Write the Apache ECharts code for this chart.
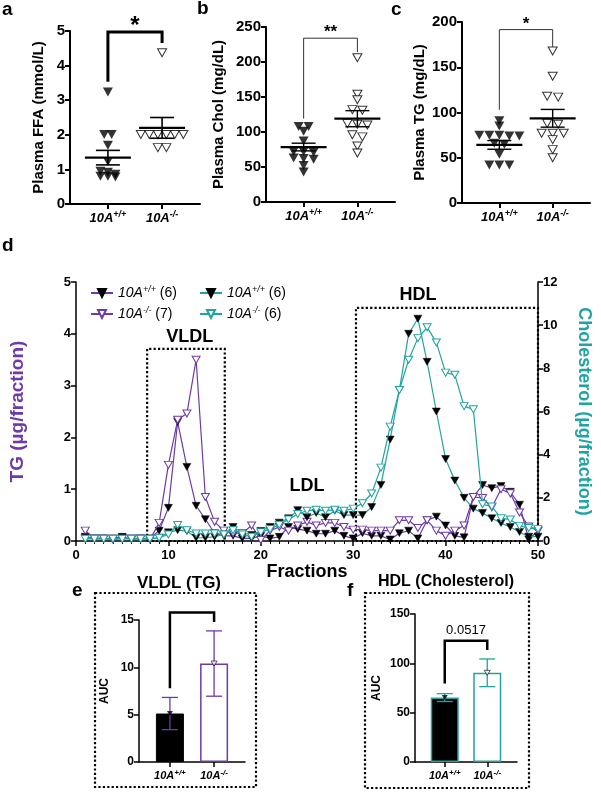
<!DOCTYPE html>
<html><head><meta charset="utf-8">
<script src="https://cdn.jsdelivr.net/npm/echarts@6/dist/echarts.min.js"></script>
<style>html,body{margin:0;padding:0;background:#fff}#c{width:601px;height:792px}</style>
</head><body><div id="c"></div>
<script>
// ---------- data ----------
const groups = ['10A+/+', '10A-/-'];
// panel a: plasma FFA (mmol/L)
const ffaWT = [3.24, 2.01, 2.01, 1.70, 1.23, 0.95, 0.92, 0.86, 0.80, 0.78, 0.80];
const ffaKO = [4.37, 2.01, 2.01, 2.01, 2.01, 2.01, 2.01, 1.63, 1.63];
const ffaMean = [1.34, 2.20];
const ffaSEM = [0.21, 0.30];
const ffaBracket = [3.53, 4.97, 4.65];
// panel b: plasma cholesterol (mg/dL)
const cholWT = [108, 108, 101, 87, 72, 72, 71, 63, 62, 61, 52, 43];
const cholKO = [206, 154, 146, 132, 131, 111, 110, 112, 96, 93, 80, 70];
const cholMean = [78.5, 119];
const cholSEM = [5.5, 11.5];
const cholBracket = [119, 234, 214];
// panel c: plasma TG (mg/dL)
const tgWT = [91, 85, 75, 75, 74, 74, 75, 66, 65, 54, 42, 42, 42];
const tgKO = [168, 140, 118, 117, 88, 87, 77, 77, 77, 70, 59, 50];
const tgMean = [64.2, 93.6];
const tgSEM = [4.8, 9.8];
const tgBracket = [103, 191.6, 172.5];
// panel d: FPLC profiles
const fractions = [1,2,3,4,5,6,7,8,9,10,11,12,13,14,15,16,17,18,19,20,21,22,23,24,25,26,27,28,29,30,31,32,33,34,35,36,37,38,39,40,41,42,43,44,45,46,47,48,49,50];
const profTgWT = [0.08,0.05,0.05,0.05,0.08,0.03,0.05,0.05,0.20,0.64,2.30,1.43,0.68,0.42,0.15,0.10,0.10,0.05,0.05,0.10,0.05,0.08,0.27,0.23,0.20,0.14,0.14,0.20,0.10,0.05,0.15,0.10,0.10,0.03,0.15,0.20,0.05,0.40,0.47,0.30,0.10,0.07,0.85,1.08,1.02,1.06,0.95,0.70,0.03,0.20];
const profTgKO = [0.20,0.05,0.05,0.03,0.05,0.05,0.05,0.03,0.35,1.47,2.34,2.46,3.50,0.85,0.37,0.20,0.15,0.15,0.30,0.02,0.20,0.27,0.20,0.30,0.37,0.30,0.35,0.35,0.27,0.22,0.22,0.20,0.20,0.20,0.40,0.40,0.25,0.40,0.20,0.10,0.20,0.30,0.85,0.83,0.65,1.00,0.92,0.55,0.28,0.20];
const profChWT = [0.15,0.10,0.10,0.10,0.15,0.10,0.10,0.10,0.15,0.40,0.50,0.46,0.15,0.15,0.20,0.30,0.65,0.20,0.28,0.46,0.65,0.85,1.05,1.43,1.10,1.30,1.10,1.40,1.20,1.20,1.20,1.57,2.60,4.70,7.00,9.60,10.30,8.30,6.00,3.80,2.80,2.00,1.50,1.30,1.05,0.83,0.65,0.42,0.20,0.20];
const profChKO = [0.10,0.10,0.10,0.10,0.10,0.10,0.10,0.10,0.15,0.30,0.74,0.50,0.35,0.35,0.35,0.30,0.50,0.30,0.20,0.40,0.55,0.75,1.00,1.25,1.40,1.45,1.40,1.45,1.40,1.50,1.75,2.20,3.40,5.30,7.00,8.40,9.40,9.90,9.20,7.80,7.70,6.25,6.10,1.70,1.60,1.05,1.00,0.70,0.60,0.55];
const legendN = {TG_wt: '(6)', TG_ko: '(7)', Ch_wt: '(6)', Ch_ko: '(6)'};
const regionLabels = ['VLDL', 'LDL', 'HDL'];
// panel e: VLDL (TG) AUC
const vldlAUC = [5.12, 10.4];
const vldlErr = [1.7, 3.45];
const vldlBracket = [7.8, 15.8, 14.8];
// panel f: HDL (cholesterol) AUC
const hdlAUC = [65.3, 90.4];
const hdlErr = [4.0, 14.0];
const hdlBracket = [79.6, 122.9, 113.4];

// ---------- helpers ----------
const purple = '#6d3aa8', teal = '#1fa3a3';
const F = 'Liberation Sans, Arial, Helvetica, sans-serif';

function richLab(fs) {
  return {
    i: {fontSize: fs, fontWeight: 'bold', fontStyle: 'italic', color: '#000', fontFamily: F},
    s: {fontSize: Math.round(fs * 0.7), fontWeight: 'bold', fontStyle: 'italic', color: '#000', fontFamily: F, padding: [0, 0, Math.round(fs * 0.55), 0]}
  };
}
function groupLabel(v) {
  return v === 1 ? '{i|10A}{s|+/+}' : '{i|10A}{s|-/-}';
}
function swarm(vals, tol, sp) {
  const idx = vals.map((v, i) => i).sort((a, b) => vals[b] - vals[a]);
  const off = new Array(vals.length).fill(0);
  let g = [];
  const flush = () => { g.forEach((k, j) => { off[k] = (j - (g.length - 1) / 2) * sp; }); g = []; };
  idx.forEach(k => { if (g.length && vals[g[0]] - vals[k] > tol) flush(); g.push(k); });
  flush();
  return off;
}
function dots(ai, x, vals, tol, sp, filled, size) {
  const off = swarm(vals, tol, sp);
  return {
    type: 'scatter', xAxisIndex: ai, yAxisIndex: ai, symbol: 'triangle', symbolRotate: 180, symbolSize: size, z: 3, silent: true,
    itemStyle: filled ? {color: '#000'} : {color: '#fff', borderColor: '#000', borderWidth: 1},
    data: vals.map((v, i) => ({value: [x, v], symbolOffset: [off[i], 0]}))
  };
}
function meanSem(xi, yi, means, sems, W, C, lw, color) {
  return {
    type: 'custom', xAxisIndex: xi, yAxisIndex: yi, z: 10, silent: true,
    data: means.map((m, i) => [i + 1, m, sems[i]]),
    renderItem(params, api) {
      const x = api.value(0), m = api.value(1), s = api.value(2);
      const pm = api.coord([x, m]), pt = api.coord([x, m + s]), pb = api.coord([x, m - s]);
      const st = {stroke: color, lineWidth: lw};
      const ch = [];
      if (W > 0) ch.push({type: 'line', shape: {x1: pm[0] - W, y1: pm[1], x2: pm[0] + W, y2: pm[1]}, style: {stroke: color, lineWidth: lw + 0.8}});
      ch.push({type: 'line', shape: {x1: pt[0], y1: pt[1], x2: pb[0], y2: pb[1]}, style: st});
      ch.push({type: 'line', shape: {x1: pt[0] - C, y1: pt[1], x2: pt[0] + C, y2: pt[1]}, style: st});
      ch.push({type: 'line', shape: {x1: pb[0] - C, y1: pb[1], x2: pb[0] + C, y2: pb[1]}, style: st});
      return {type: 'group', children: ch};
    }
  };
}
function bracket(xi, yi, b, text, lw, color, fs, bold, dist) {
  return {
    type: 'line', xAxisIndex: xi, yAxisIndex: yi, clip: false, symbol: 'none', silent: true, z: 4,
    lineStyle: {color: color, width: lw, join: 'miter', cap: 'butt'},
    data: [[1, b[0]], [1, b[1]], [2, b[1]], [2, b[2]]],
    markPoint: {
      symbol: 'rect', symbolSize: 0, silent: true,
      data: [{coord: [1.5, b[1]]}],
      label: {show: true, position: 'top', distance: dist, formatter: text, fontSize: fs, fontWeight: bold ? 'bold' : 'normal', color: '#000', fontFamily: F}
    }
  };
}
function catX(gi, fs, margin, lw) {
  return {
    type: 'value', gridIndex: gi, min: 0.3, max: 2.7,
    axisLine: {show: true, lineStyle: {color: '#000', width: lw}},
    axisTick: {show: true, customValues: [1, 2], length: 5, lineStyle: {color: '#000', width: lw}},
    axisLabel: {show: true, customValues: [1, 2], margin: margin, formatter: groupLabel, rich: richLab(fs)},
    splitLine: {show: false}
  };
}
function valY(gi, max, interval, name, fs, nfs, gap, lw) {
  return {
    type: 'value', gridIndex: gi, min: 0, max: max, interval: interval,
    name: name, nameLocation: 'middle', nameGap: gap, nameRotate: 90,
    nameTextStyle: {fontSize: nfs, fontWeight: 'bold', color: '#000', fontFamily: F},
    axisLine: {show: true, lineStyle: {color: '#000', width: lw}},
    axisTick: {show: true, length: 5, lineStyle: {color: '#000', width: lw}},
    axisLabel: {fontSize: fs, fontWeight: 'bold', color: '#000', margin: 5, fontFamily: F},
    splitLine: {show: false}
  };
}
function prof(name, yi, vals, lineColor, filled, z) {
  return {
    name: name, type: 'line', xAxisIndex: 3, yAxisIndex: yi, z: z,
    data: fractions.map((f, i) => [f, vals[i]]),
    symbol: 'triangle', symbolRotate: 180, symbolSize: [8, 7], showAllSymbol: true, showSymbol: true,
    lineStyle: {color: lineColor, width: 1.2},
    itemStyle: filled ? {color: '#000', borderColor: '#000', borderWidth: 0.5} : {color: '#fff', borderColor: lineColor, borderWidth: 1}
  };
}
function legendFmt(name) {
  const sup = name.endsWith('wt') ? '+/+' : '-/-';
  return '{i|10A}{s|' + sup + '}{n| ' + legendN[name] + '}';
}
const legendRich = {
  i: {fontSize: 14, fontStyle: 'italic', color: '#000', fontFamily: F},
  s: {fontSize: 9, fontStyle: 'italic', color: '#000', fontFamily: F, padding: [0, 0, 7, 0]},
  n: {fontSize: 14, color: '#000', fontFamily: F}
};

// ---------- option ----------
const tgLine = prof('TG_ko', 3, profTgKO, purple, false, 3);
tgLine.markArea = {
  silent: true,
  itemStyle: {color: 'rgba(0,0,0,0)', borderColor: '#000', borderWidth: 2.2, borderType: 'dotted'},
  label: {show: false},
  data: [
    [{xAxis: 7.7, yAxis: 0}, {xAxis: 16.1, yAxis: 3.71}],
    [{xAxis: 30.3, yAxis: 0}, {xAxis: 50, yAxis: 4.5}]
  ]
};
tgLine.markPoint = {
  symbol: 'rect', symbolSize: 0, silent: true,
  data: [
    {coord: [12.3, 3.93], name: regionLabels[0]},
    {coord: [25, 1.06], name: regionLabels[1]},
    {coord: [37.0, 4.74], name: regionLabels[2]}
  ],
  label: {show: true, position: 'inside', formatter: '{b}', fontSize: 18, fontWeight: 'bold', color: '#000', fontFamily: F}
};

const dX = {
  type: 'value', gridIndex: 3, min: 0, max: 50, interval: 10,
  name: 'Fractions', nameLocation: 'middle', nameGap: 21,
  nameTextStyle: {fontSize: 18, fontWeight: 'bold', color: '#000', fontFamily: F},
  axisLine: {show: true, lineStyle: {color: '#000', width: 1.5}},
  axisTick: {show: true, length: 5, lineStyle: {color: '#000', width: 1.5}},
  minorTick: {show: true, splitNumber: 10, length: 3, lineStyle: {color: '#000', width: 1}},
  axisLabel: {fontSize: 13, fontWeight: 'bold', color: '#000', margin: 8, fontFamily: F},
  splitLine: {show: false}
};
const dYL = valY(3, 5, 1, 'TG (\u00b5g/fraction)', 13, 19, 49, 1.5);
dYL.nameTextStyle.color = purple;
const dYR = valY(3, 12, 2, 'Cholesterol (\u00b5g/fraction)', 13, 18, 37, 1.5);
dYR.position = 'right';
dYR.nameRotate = -90;
dYR.nameTextStyle.color = teal;

const option = {
  animation: false,
  textStyle: {fontFamily: F},
  grid: [
    {left: 70, right: 401, top: 31, bottom: 588},
    {left: 266, right: 206, top: 27, bottom: 590},
    {left: 462, right: 11, top: 22, bottom: 589},
    {left: 73, right: 59, top: 282, bottom: 251},
    {left: 139, right: 356, top: 620, bottom: 30},
    {left: 415, right: 84, top: 614, bottom: 30}
  ],
  xAxis: [catX(0, 13, 6, 2), catX(1, 13, 6, 2), catX(2, 13, 6, 2), dX, catX(4, 11, 7, 1.5), catX(5, 11, 7, 1.5)],
  yAxis: [
    valY(0, 5, 1, 'Plasma FFA (mmol/L)', 15, 15, 24, 2),
    valY(1, 250, 50, 'Plasma Chol (mg/dL)', 15, 15, 40, 2),
    valY(2, 200, 50, 'Plasma TG (mg/dL)', 15, 15, 35, 2),
    dYL, dYR,
    valY(4, 15, 5, 'AUC', 12, 12, 28, 1.5),
    valY(5, 150, 50, 'AUC', 12, 12, 32, 1.5)
  ],
  legend: [
    {data: ['TG_wt', 'TG_ko'], left: 85, top: 280, orient: 'vertical', itemGap: 6, itemWidth: 22, itemHeight: 10, selectedMode: false, formatter: legendFmt, textStyle: {rich: legendRich}},
    {data: ['Ch_wt', 'Ch_ko'], left: 194, top: 280, orient: 'vertical', itemGap: 6, itemWidth: 22, itemHeight: 10, selectedMode: false, formatter: legendFmt, textStyle: {rich: legendRich}}
  ],
  series: [
    // a
    dots(0, 1, ffaWT, 0.12, 7.5, true, [10, 9]),
    dots(0, 2, ffaKO, 0.12, 8.5, false, [9, 8]),
    meanSem(0, 0, ffaMean, ffaSEM, 23, 12, 1.6, '#000'),
    bracket(0, 0, ffaBracket, '*', 3, '#000', 24, true, -6),
    // b
    dots(1, 1, cholWT, 6, 10, true, [10, 9]),
    dots(1, 2, cholKO, 6, 10, false, [9, 8]),
    meanSem(1, 1, cholMean, cholSEM, 23, 12, 1.4, '#000'),
    bracket(1, 1, cholBracket, '**', 1, '#333', 17, true, -3),
    // c
    dots(2, 1, tgWT, 5, 10, true, [10, 9]),
    dots(2, 2, tgKO, 5, 11, false, [9, 8]),
    meanSem(2, 2, tgMean, tgSEM, 23, 12, 1.4, '#000'),
    bracket(2, 2, tgBracket, '*', 1, '#333', 17, true, -3),
    // d
    prof('TG_wt', 3, profTgWT, purple, true, 2),
    tgLine,
    prof('Ch_wt', 4, profChWT, teal, true, 4),
    prof('Ch_ko', 4, profChKO, teal, false, 5),
    // e
    {type: 'bar', xAxisIndex: 4, yAxisIndex: 5, barWidth: 28, silent: true, z: 2,
     data: [{value: [1, vldlAUC[0]], itemStyle: {color: '#000', borderColor: '#000', borderWidth: 1}},
            {value: [2, vldlAUC[1]], itemStyle: {color: '#fff', borderColor: purple, borderWidth: 1.5}}]},
    meanSem(4, 5, vldlAUC, vldlErr, 0, 8, 1.3, purple),
    {type: 'scatter', xAxisIndex: 4, yAxisIndex: 5, symbol: 'triangle', symbolRotate: 180, symbolSize: [6, 5], silent: true, z: 11,
     data: [{value: [1, vldlAUC[0]], itemStyle: {color: '#000'}}, {value: [2, vldlAUC[1]], itemStyle: {color: '#fff', borderColor: '#000', borderWidth: 0.8}}]},
    bracket(4, 5, vldlBracket, 'ns', 2.5, '#000', 11, false, 4),
    // f
    {type: 'bar', xAxisIndex: 5, yAxisIndex: 6, barWidth: 28, silent: true, z: 2,
     data: [{value: [1, hdlAUC[0]], itemStyle: {color: '#000', borderColor: teal, borderWidth: 1.5}},
            {value: [2, hdlAUC[1]], itemStyle: {color: '#fff', borderColor: teal, borderWidth: 1.5}}]},
    meanSem(5, 6, hdlAUC, hdlErr, 0, 8, 1.3, teal),
    {type: 'scatter', xAxisIndex: 5, yAxisIndex: 6, symbol: 'triangle', symbolRotate: 180, symbolSize: [6, 5], silent: true, z: 11,
     data: [{value: [1, hdlAUC[0]], itemStyle: {color: '#000'}}, {value: [2, hdlAUC[1]], itemStyle: {color: '#fff', borderColor: '#000', borderWidth: 0.8}}]},
    bracket(5, 6, hdlBracket, '0.0517', 2.5, '#000', 13, false, 4)
  ],
  graphic: [
    {type: 'text', x: 2, y: 10, style: {text: 'a', font: 'bold 19px ' + F, fill: '#000', verticalAlign: 'middle'}},
    {type: 'text', x: 197, y: 9, style: {text: 'b', font: 'bold 19px ' + F, fill: '#000', verticalAlign: 'middle'}},
    {type: 'text', x: 391, y: 10, style: {text: 'c', font: 'bold 19px ' + F, fill: '#000', verticalAlign: 'middle'}},
    {type: 'text', x: 2, y: 246, style: {text: 'd', font: 'bold 19px ' + F, fill: '#000', verticalAlign: 'middle'}},
    {type: 'text', x: 72, y: 591, style: {text: 'e', font: 'bold 19px ' + F, fill: '#000', verticalAlign: 'middle'}},
    {type: 'text', x: 347, y: 591, style: {text: 'f', font: 'bold 19px ' + F, fill: '#000', verticalAlign: 'middle'}},
    {type: 'text', x: 179, y: 583, style: {text: 'VLDL (TG)', font: 'bold 17px ' + F, fill: '#000', align: 'center', verticalAlign: 'middle'}},
    {type: 'text', x: 446, y: 582, style: {text: 'HDL (Cholesterol)', font: 'bold 16px ' + F, fill: '#000', align: 'center', verticalAlign: 'middle'}},
    {type: 'rect', shape: {x: 95, y: 593, width: 161, height: 194}, style: {fill: 'none', stroke: '#000', lineWidth: 2.2, lineDash: [2.2, 2.2]}},
    {type: 'rect', shape: {x: 365, y: 593, width: 164, height: 195}, style: {fill: 'none', stroke: '#000', lineWidth: 2.2, lineDash: [2.2, 2.2]}}
  ]
};
const chart = echarts.init(document.getElementById('c'), null, {renderer: 'canvas'});
chart.setOption(option);
</script></body></html>
